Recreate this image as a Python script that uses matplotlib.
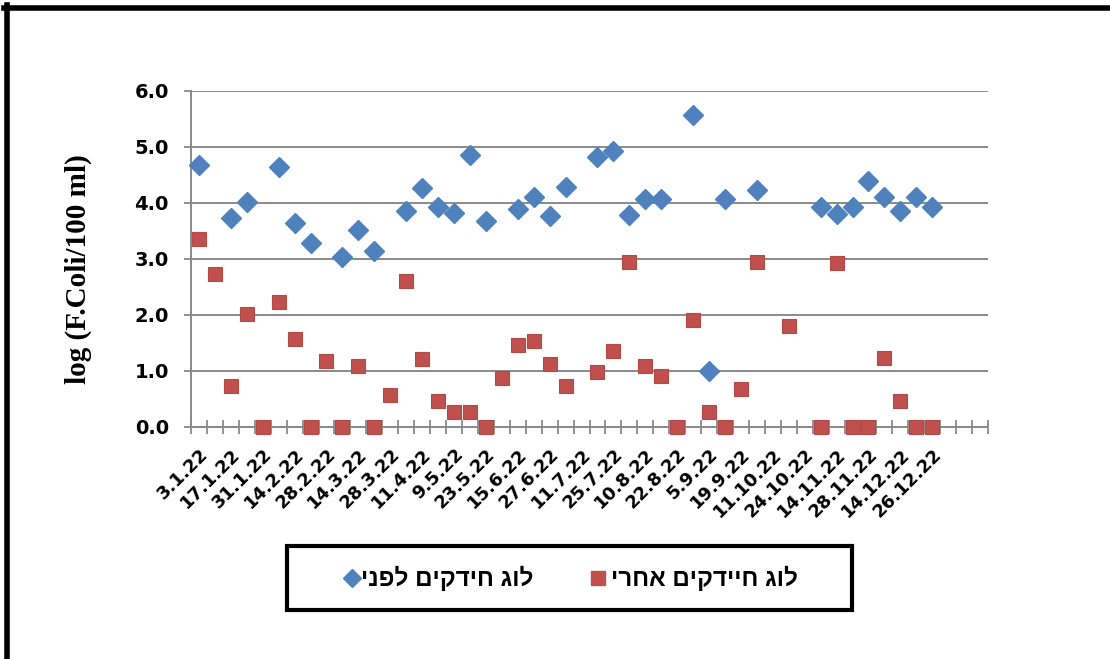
import numpy as np
import matplotlib
matplotlib.use('Agg')
import matplotlib.pyplot as plt
from matplotlib.lines import Line2D
from matplotlib.patches import Rectangle
from matplotlib.ticker import FixedLocator, FormatStrFormatter

nan = np.nan

# sampling dates shown on the axis (every second sample is labelled)
tick_labels = ['3.1.22', '17.1.22', '31.1.22', '14.2.22', '28.2.22', '14.3.22',
               '28.3.22', '11.4.22', '9.5.22', '23.5.22', '15.6.22', '27.6.22',
               '11.7.22', '25.7.22', '10.8.22', '22.8.22', '5.9.22', '19.9.22',
               '11.10.22', '24.10.22', '14.11.22', '28.11.22', '14.12.22', '26.12.22']

# log F.Coli / 100 ml before treatment
before = [4.68, nan, 3.74, 4.01, nan, 4.65, 3.65, 3.28, nan, 3.03,
          3.52, 3.14, nan, 3.86, 4.27, 3.93, 3.83, 4.86, 3.68, nan,
          3.89, 4.10, 3.76, 4.28, nan, 4.83, 4.93, 3.79, 4.07, 4.07,
          nan, 5.58, 1.00, 4.07, nan, 4.24, nan, nan, nan, 3.93,
          3.81, 3.93, 4.39, 4.10, 3.85, 4.11, 3.93, nan, nan, nan]

# log F.Coli / 100 ml after treatment
after = [3.36, 2.73, 0.74, 2.01, 0.0, 2.23, 1.57, 0.0, 1.18, 0.0,
         1.09, 0.0, 0.57, 2.61, 1.22, 0.46, 0.26, 0.26, 0.0, 0.88,
         1.46, 1.54, 1.12, 0.74, nan, 0.99, 1.36, 2.95, 1.09, 0.91,
         0.0, 1.91, 0.26, 0.0, 0.67, 2.95, nan, 1.81, nan, 0.0,
         2.92, 0.0, 0.0, 1.23, 0.46, 0.0, 0.0, nan, nan, nan]

label_before = 'לוג חידקים לפני'
label_after = 'לוג חיידקים אחרי'

BLUE = '#4F81BD'
RED = '#C0504D'
GRID = '#8A8A8A'

W, H = 1110, 659
fig = plt.figure(figsize=(W / 100, H / 100), dpi=100)
fig.patch.set_facecolor('white')

def fx(px):
    return px / W

def fy(py):
    return 1 - py / H

ax = fig.add_axes([fx(191), fy(427), fx(988) - fx(191), fy(91) - fy(427)])

x = np.arange(len(before))
ax.plot(x, before, linestyle='none', marker='D', ms=10, color=BLUE,
        mec=BLUE, clip_on=False, zorder=4)
ax.plot(x, after, linestyle='none', marker='s', ms=10, color=RED,
        mec='#B54946', mew=0.8, clip_on=False, zorder=4)

ax.set_xlim(-0.5, len(before) - 0.5)
ax.set_ylim(0, 6)

# y axis
ax.set_yticks(np.arange(0, 7, 1))
ax.yaxis.set_major_formatter(FormatStrFormatter('%.1f'))
ax.tick_params(axis='y', direction='out', length=5, width=1.3, color=GRID,
               pad=11, labelsize=14)
for t in ax.get_yticklabels():
    t.set_fontweight('bold')
ax.yaxis.grid(True, color=GRID, linewidth=1.4)
ax.set_axisbelow(True)

# x axis: category boundaries get the tick marks, labels every second sample
ax.xaxis.set_minor_locator(FixedLocator(np.arange(-0.5, len(before), 1)))
ax.set_xticks(x[::2][:len(tick_labels)])
ax.set_xticklabels(tick_labels, rotation=45, ha='right', va='top',
                   rotation_mode='anchor', fontsize=13, fontweight='bold')
ax.tick_params(axis='x', which='major', length=0, pad=13)
ax.tick_params(axis='x', which='minor', direction='inout', length=10,
               width=1.3, color=GRID)

for side in ['top', 'right']:
    ax.spines[side].set_visible(False)
for side in ['left', 'bottom']:
    ax.spines[side].set_color(GRID)
    ax.spines[side].set_linewidth(1.4)
    ax.spines[side].set_zorder(2)

fig.text(fx(78), fy(269), 'log (F.Coli/100 ml)', rotation=90, ha='center',
         va='center', fontsize=21, fontweight='bold', family='Liberation Serif')

# legend box
fig.add_artist(Rectangle((fx(287), fy(610)), fx(852) - fx(287), fy(546) - fy(610),
                         transform=fig.transFigure, fill=False, ec='black', lw=3))
leg_y = fy(578)
fig.add_artist(Line2D([fx(352)], [leg_y], transform=fig.transFigure, marker='D',
                      ms=9, color=BLUE, linestyle='none'))
fig.add_artist(Line2D([fx(598)], [leg_y], transform=fig.transFigure, marker='s',
                      ms=9.5, color=RED, linestyle='none'))
heb = ['Liberation Sans', 'DejaVu Sans']
fig.text(fx(361), leg_y, label_before[::-1], ha='left', va='center', fontsize=17.5,
         fontweight='bold', family=heb)
fig.text(fx(611), leg_y, label_after[::-1], ha='left', va='center', fontsize=17.5,
         fontweight='bold', family=heb)

# outer frame
fig.add_artist(Line2D([fx(4), fx(W)], [fy(7.5), fy(7.5)], transform=fig.transFigure,
                      color='black', lw=4))
fig.add_artist(Line2D([fx(6.5), fx(6.5)], [fy(5), fy(H)], transform=fig.transFigure,
                      color='black', lw=4))

fig.savefig('out.png', dpi=100, facecolor='white')
